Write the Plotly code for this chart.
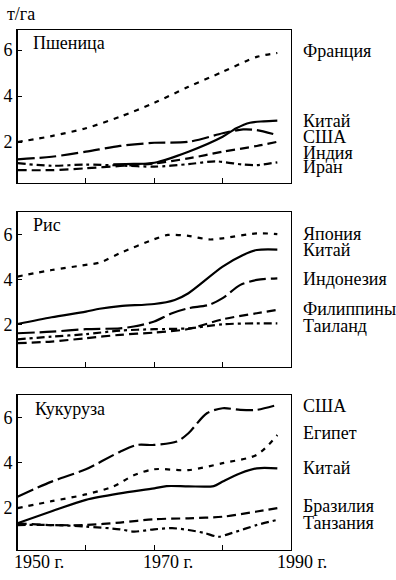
import plotly.graph_objects as go

# ---------------- DATA ----------------
grid = [1950, 1955, 1960, 1965, 1970, 1975, 1980, 1985, 1988]

# Пшеница (wheat)
wheat_france_x = grid
wheat_france = [2.0, 2.26, 2.6, 3.1, 3.7, 4.4, 5.05, 5.7, 5.87]
wheat_china_x = [1964, 1967, 1970, 1975, 1980, 1982, 1984, 1986, 1988]
wheat_china = [1.03, 1.05, 1.1, 1.58, 2.23, 2.6, 2.84, 2.9, 2.93]
wheat_usa_x = [1950, 1955, 1960, 1965, 1970, 1975, 1980, 1983, 1985, 1988]
wheat_usa = [1.25, 1.36, 1.58, 1.83, 1.97, 2.01, 2.38, 2.55, 2.52, 2.3]
wheat_india_x = grid
wheat_india = [0.78, 0.78, 0.86, 0.96, 1.07, 1.29, 1.58, 1.83, 2.01]
wheat_iran_x = [1950, 1955, 1960, 1965, 1970, 1975, 1979, 1983, 1985, 1988]
wheat_iran = [1.08, 0.97, 1.02, 0.98, 0.93, 1.04, 1.16, 1.02, 1.0, 1.12]

# Рис (rice)
rice_japan_x = [1950, 1955, 1960, 1962, 1965, 1970, 1972, 1975, 1978, 1980, 1985, 1988]
rice_japan = [4.15, 4.44, 4.67, 4.77, 5.19, 5.81, 6.0, 5.96, 5.8, 5.85, 6.07, 6.04]
rice_china_x = [1950, 1955, 1960, 1962, 1965, 1970, 1973, 1975, 1980, 1983, 1985, 1988]
rice_china = [2.04, 2.34, 2.59, 2.72, 2.84, 2.93, 3.11, 3.41, 4.59, 5.11, 5.33, 5.35]
rice_indonesia_x = [1950, 1955, 1960, 1965, 1967, 1970, 1972.6, 1975, 1978, 1980, 1982.6, 1985, 1988]
rice_indonesia = [1.63, 1.7, 1.81, 1.85, 1.93, 2.15, 2.52, 2.74, 2.89, 3.19, 3.78, 4.0, 4.07]
rice_philippines_x = grid
rice_philippines = [1.19, 1.26, 1.41, 1.56, 1.66, 1.82, 2.25, 2.52, 2.67]
rice_thailand_x = grid
rice_thailand = [1.36, 1.48, 1.59, 1.75, 1.81, 1.85, 2.03, 2.07, 2.07]

# Кукуруза (maize)
maize_usa_x = [1950, 1955, 1960, 1965, 1967.5, 1970, 1973.3, 1975, 1977.7, 1980, 1982.6, 1985, 1988]
maize_usa = [2.5, 3.17, 3.72, 4.5, 4.8, 4.8, 4.95, 5.32, 6.21, 6.43, 6.36, 6.36, 6.58]
maize_egypt_x = [1950, 1955, 1960, 1964, 1967, 1970, 1975, 1980, 1985, 1988]
maize_egypt = [1.99, 2.3, 2.6, 2.95, 3.45, 3.72, 3.68, 3.99, 4.36, 5.24]
maize_china_x = [1950, 1955, 1960, 1965, 1970, 1971.8, 1975, 1978.7, 1980, 1982.6, 1985, 1988]
maize_china = [1.32, 1.85, 2.36, 2.65, 2.87, 2.97, 2.96, 2.97, 3.17, 3.54, 3.76, 3.76]
maize_brazil_x = grid
maize_brazil = [1.32, 1.24, 1.24, 1.35, 1.5, 1.54, 1.61, 1.84, 1.99]
maize_tanzania_x = [1950, 1955, 1960, 1965, 1967, 1970, 1972.6, 1975, 1977.4, 1979.4, 1981.3, 1985, 1988]
maize_tanzania = [1.24, 1.24, 1.17, 1.05, 0.95, 1.05, 1.1, 1.02, 0.88, 0.72, 0.88, 1.24, 1.47]

panel_titles = ["Пшеница", "Рис", "Кукуруза"]
wheat_labels = ["Франция", "Китай", "США", "Индия", "Иран"]
rice_labels = ["Япония", "Китай", "Индонезия", "Филиппины", "Таиланд"]
maize_labels = ["США", "Египет", "Китай", "Бразилия", "Танзания"]
y_tick_vals = [2, 4, 6]
x_tick_vals = [1960, 1970, 1980]
x_label_years = [1950, 1970, 1990]
x_label_texts = ["1950 г.", "1970 г.", "1990 г."]
unit_label = "т/га"

# ---------------- STYLE ----------------
W, H = 396, 580
FONT = "Liberation Serif"
DOT = "5px,6px"
LONG = "17px,5px"
SHORT = "9px,5px"
DASHDOT = "8px,4px,3px,4px"
SOLID = "solid"


def py(p):
    return 1 - p / H


fig = go.Figure()


def add(x, y, dash, axis):
    fig.add_trace(go.Scatter(
        x=x, y=y, mode="lines", xaxis="x" + axis, yaxis="y" + axis,
        line=dict(color="black", width=2.2, dash=dash, shape="spline", smoothing=0.8),
        showlegend=False, hoverinfo="skip"))


add(wheat_france_x, wheat_france, DOT, "")
add(wheat_china_x, wheat_china, SOLID, "")
add(wheat_usa_x, wheat_usa, LONG, "")
add(wheat_india_x, wheat_india, SHORT, "")
add(wheat_iran_x, wheat_iran, DASHDOT, "")

add(rice_japan_x, rice_japan, DOT, "2")
add(rice_china_x, rice_china, SOLID, "2")
add(rice_indonesia_x, rice_indonesia, LONG, "2")
add(rice_philippines_x, rice_philippines, SHORT, "2")
add(rice_thailand_x, rice_thailand, DASHDOT, "2")

add(maize_usa_x, maize_usa, LONG, "3")
add(maize_egypt_x, maize_egypt, DOT, "3")
add(maize_china_x, maize_china, SOLID, "3")
add(maize_brazil_x, maize_brazil, SHORT, "3")
add(maize_tanzania_x, maize_tanzania, DASHDOT, "3")

# panel pixel boxes: (top, bottom, yrange)
panels = [(30, 183, [0.22, 6.87]), (212, 367, [0.13, 7.02]), (395, 550, [0.13, 7.02])]
XL, XR = 17.5, 291

layout = dict(
    width=W, height=H, margin=dict(l=0, r=0, t=0, b=0),
    paper_bgcolor="white", plot_bgcolor="white",
    font=dict(family=FONT, size=17, color="black"),
    showlegend=False,
)
for i, (top, bot, yr) in enumerate(panels):
    s = "" if i == 0 else str(i + 1)
    layout["xaxis" + s] = dict(
        domain=[XL / W, XR / W], range=[1950, 1990], anchor="y" + s,
        showline=True, mirror=True, linecolor="black", linewidth=1.3,
        showgrid=False, zeroline=False,
        tickvals=x_tick_vals, ticks="inside", ticklen=5, tickcolor="black",
        showticklabels=False)
    layout["yaxis" + s] = dict(
        domain=[py(bot), py(top)], range=yr, anchor="x" + s,
        showline=True, mirror=True, linecolor="black", linewidth=1.3,
        showgrid=False, zeroline=False,
        tickvals=y_tick_vals, ticks="inside", ticklen=4, tickcolor="black",
        tickfont=dict(family=FONT, size=18, color="black"))
fig.update_layout(**layout)

ann = []


def text(x_px, y_px, t, size=18, anchor="left"):
    ann.append(dict(x=x_px / W, y=py(y_px), xref="paper", yref="paper", text=t,
                    showarrow=False, xanchor=anchor, yanchor="middle",
                    font=dict(family=FONT, size=size, color="black")))


text(5, 14, unit_label, 18)
title_pos = [(31, 43), (31, 225), (33, 409)]
for (x0, y0), t in zip(title_pos, panel_titles):
    text(x0, y0, t, 18)

label_x = 301
for t, y0 in zip(wheat_labels, [51, 121, 137.5, 152.5, 167.5]):
    text(label_x, y0, t)
for t, y0 in zip(rice_labels, [234, 250, 279, 309, 326]):
    text(label_x, y0, t)
for t, y0 in zip(maize_labels, [406, 432.5, 467.5, 506, 522.5]):
    text(label_x, y0, t)

fig.update_layout(annotations=ann)

# bottom year labels, placed in data coordinates of the bottom axis
for yr_, t in zip(x_label_years, x_label_texts):
    fig.add_annotation(x=yr_, y=py(562), xref="x3", yref="paper", text=t,
                       showarrow=False, xanchor="left", yanchor="middle",
                       xshift=-6 if yr_ == 1950 else (-13 if yr_ == 1970 else -16),
                       font=dict(family=FONT, size=18, color="black"))

fig.write_html("out.html", config={"displayModeBar": False, "staticPlot": True},
               post_script="document.body.style.margin='0';")
